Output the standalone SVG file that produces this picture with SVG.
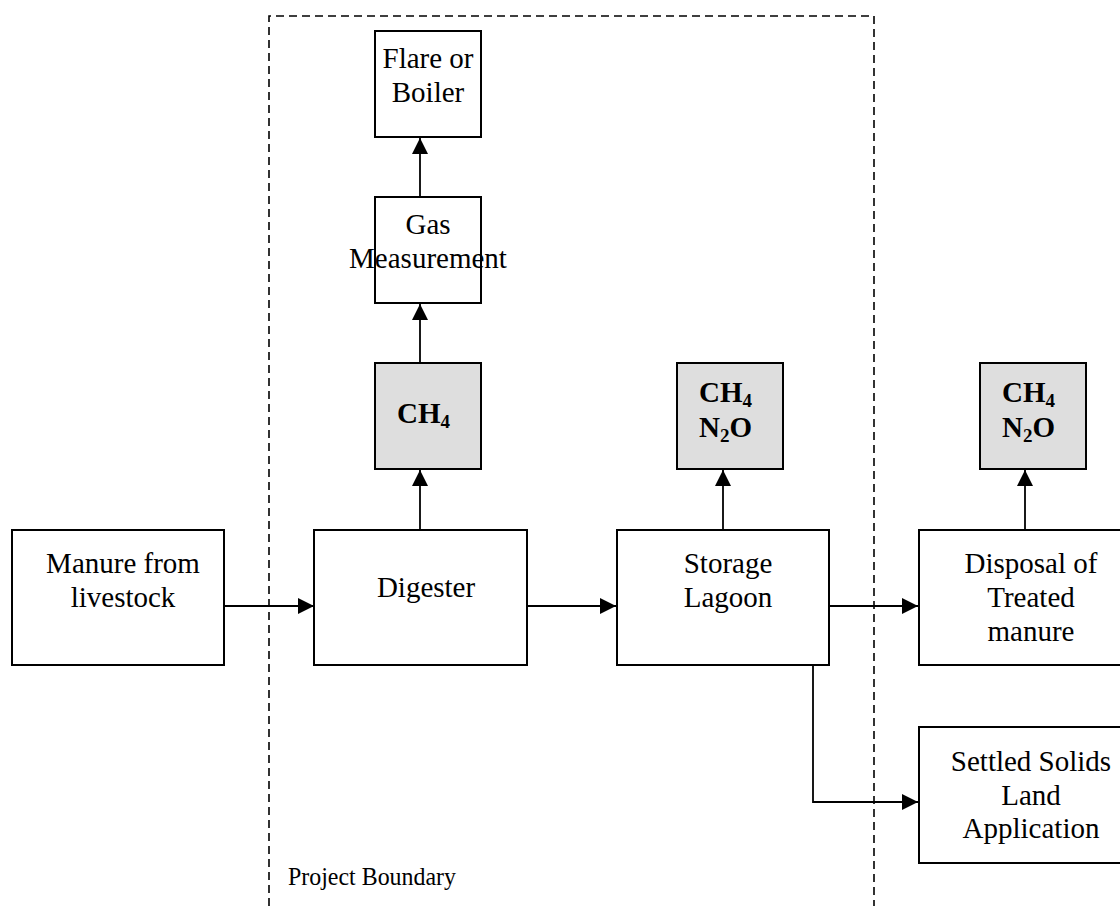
<svg xmlns="http://www.w3.org/2000/svg" width="1120" height="906" viewBox="0 0 1120 906">
<style>
.box{fill:#fff;stroke:#000;stroke-width:2}
.gas{fill:#dedede;stroke:#000;stroke-width:2}
.t{font-family:"Liberation Serif","Times New Roman",serif;font-size:29px;fill:#000;text-anchor:middle}
.b{font-family:"Liberation Serif","Times New Roman",serif;font-size:29px;font-weight:bold;fill:#000}
.c{fill:none;stroke:#000;stroke-width:1.8}
.bd{fill:none;stroke:#000;stroke-width:1.6;stroke-dasharray:8 5}
</style>
<defs>
<marker id="ah" markerWidth="16" markerHeight="16" refX="16" refY="8" orient="auto" markerUnits="userSpaceOnUse">
<path d="M0,0 L16,8 L0,16 Z" fill="#000"/>
</marker>
</defs>
<rect width="1120" height="906" fill="#fff"/>
<g id="boundary">
<path class="bd" d="M269,906 V16 H874 V906"/>
<text x="288" y="885" style="font-family:'Liberation Serif','Times New Roman',serif;font-size:25px" textLength="168" lengthAdjust="spacingAndGlyphs">Project Boundary</text>
</g>
<g id="connectors">
<path class="c" d="M224,606 H314" marker-end="url(#ah)"/>
<path class="c" d="M527,606 H616" marker-end="url(#ah)"/>
<path class="c" d="M829,606 H918" marker-end="url(#ah)"/>
<path class="c" d="M813,665 V802 H918" marker-end="url(#ah)"/>
<path class="c" d="M420,530 V470" marker-end="url(#ah)"/>
<path class="c" d="M420,363 V304" marker-end="url(#ah)"/>
<path class="c" d="M420,197 V138" marker-end="url(#ah)"/>
<path class="c" d="M723,530 V470" marker-end="url(#ah)"/>
<path class="c" d="M1025,530 V470" marker-end="url(#ah)"/>
</g>
<g id="flare">
<rect class="box" x="375" y="31" width="106" height="106"/>
<text class="t" x="428" y="68">Flare or</text>
<text class="t" x="428" y="102">Boiler</text>
</g>
<g id="gasmeas">
<rect class="box" x="375" y="197" width="106" height="106"/>
<text class="t" x="428" y="234">Gas</text>
<text class="t" x="428" y="268">Measurement</text>
</g>
<g id="ch4a">
<rect class="gas" x="375" y="363" width="106" height="106"/>
<text class="b" x="397" y="423">CH<tspan font-size="19" dy="5">4</tspan></text>
</g>
<g id="ch4b">
<rect class="gas" x="677" y="363" width="106" height="106"/>
<text class="b" x="699" y="402">CH<tspan font-size="19" dy="5">4</tspan></text>
<text class="b" x="699" y="437">N<tspan font-size="19" dy="5">2</tspan><tspan dy="-5">O</tspan></text>
</g>
<g id="ch4c">
<rect class="gas" x="980" y="363" width="106" height="106"/>
<text class="b" x="1002" y="402">CH<tspan font-size="19" dy="5">4</tspan></text>
<text class="b" x="1002" y="437">N<tspan font-size="19" dy="5">2</tspan><tspan dy="-5">O</tspan></text>
</g>
<g id="manure">
<rect class="box" x="12" y="530" width="212" height="135"/>
<text class="t" x="123" y="573">Manure from</text>
<text class="t" x="123" y="607">livestock</text>
</g>
<g id="digester">
<rect class="box" x="314" y="530" width="213" height="135"/>
<text class="t" x="426" y="597">Digester</text>
</g>
<g id="lagoon">
<rect class="box" x="617" y="530" width="212" height="135"/>
<text class="t" x="728" y="573">Storage</text>
<text class="t" x="728" y="607">Lagoon</text>
</g>
<g id="disposal">
<rect class="box" x="919" y="530" width="212" height="135"/>
<text class="t" x="1031" y="573">Disposal of</text>
<text class="t" x="1031" y="607">Treated</text>
<text class="t" x="1031" y="641">manure</text>
</g>
<g id="settled">
<rect class="box" x="919" y="727" width="212" height="136"/>
<text class="t" x="1031" y="771">Settled Solids</text>
<text class="t" x="1031" y="805">Land</text>
<text class="t" x="1031" y="838">Application</text>
</g>
</svg>
